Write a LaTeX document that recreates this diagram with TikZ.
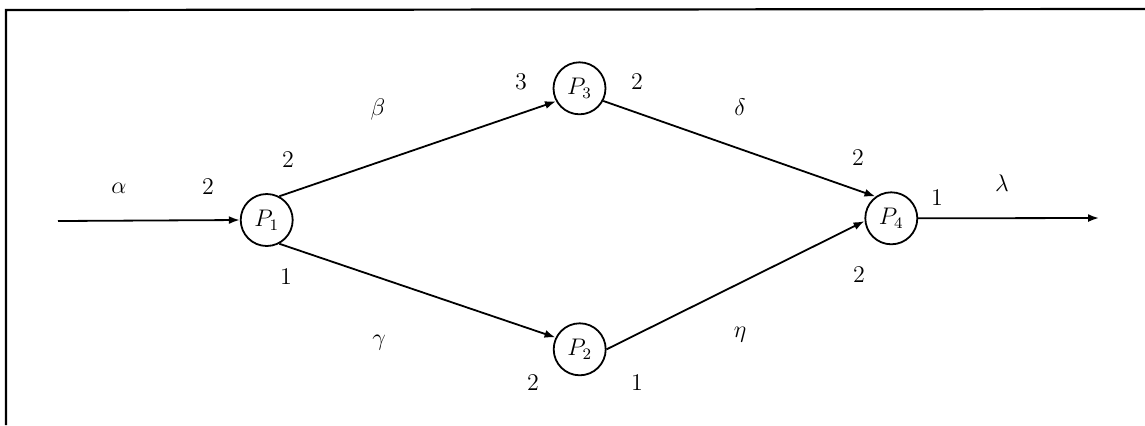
\documentclass[tikz,border=0pt]{standalone}
\usetikzlibrary{arrows.meta}

\tikzset{every picture/.style={line width=0.9pt}}
\tikzset{place/.style={draw,circle,minimum size=26pt,inner sep=0pt,font=\large},
  wt/.style={inner sep=1pt,font=\large},
  arc/.style={-{Latex[length=5.5pt,width=4pt]}}}

\begin{document}
\begin{tikzpicture}[x=0.5pt,y=0.5pt,yscale=-1,xscale=1]
    \useasboundingbox (0,0) rectangle (1145,425);
    %Frame
    \draw[line width=1.1pt] (6,425) -- (6,10) -- (1145,9);
    %Places
    \node[place] (p1) at (266.7,220) {$P_1$};
    \node[place] (p3) at (579.5,88.3) {$P_3$};
    \node[place] (p2) at (579.7,349.3) {$P_2$};
    \node[place] (p4) at (891.3,218.3) {$P_4$};
    \coordinate (in) at (58,221);
    \coordinate (out) at (1099,218);
    %Straight Lines
    \draw[arc] (in) -- (p1.west);
    \draw[arc] (p1.62) -- (p3.209);
    \draw[arc] (p1.-62) -- (p2.154);
    \draw[arc] (p3.-28) -- (p4.126);
    \draw[arc] (p2.east) -- (p4.186);
    \draw[arc] (p4.east) -- (out);
    %Labels
    \node[wt] (la) at (119,188) {$\alpha$};
    \node[wt] (w1) at (208,187) {$2$};
    \node[wt] (w2) at (288,160) {$2$};
    \node[wt] (w3) at (286,277) {$1$};
    \node[wt] (lb) at (378,109) {$\beta$};
    \node[wt] (lg) at (379,343) {$\gamma$};
    \node[wt] (w4) at (521,82) {$3$};
    \node[wt] (w5) at (637,82) {$2$};
    \node[wt] (w6) at (533,383) {$2$};
    \node[wt] (w7) at (637,383) {$1$};
    \node[wt] (ld) at (740,107) {$\delta$};
    \node[wt] (le) at (740,335) {$\eta$};
    \node[wt] (w8) at (858,158) {$2$};
    \node[wt] (w9) at (859,275) {$2$};
    \node[wt] (w10) at (937,198) {$1$};
    \node[wt] (ll) at (1002,183) {$\lambda$};
\end{tikzpicture}
\end{document}
